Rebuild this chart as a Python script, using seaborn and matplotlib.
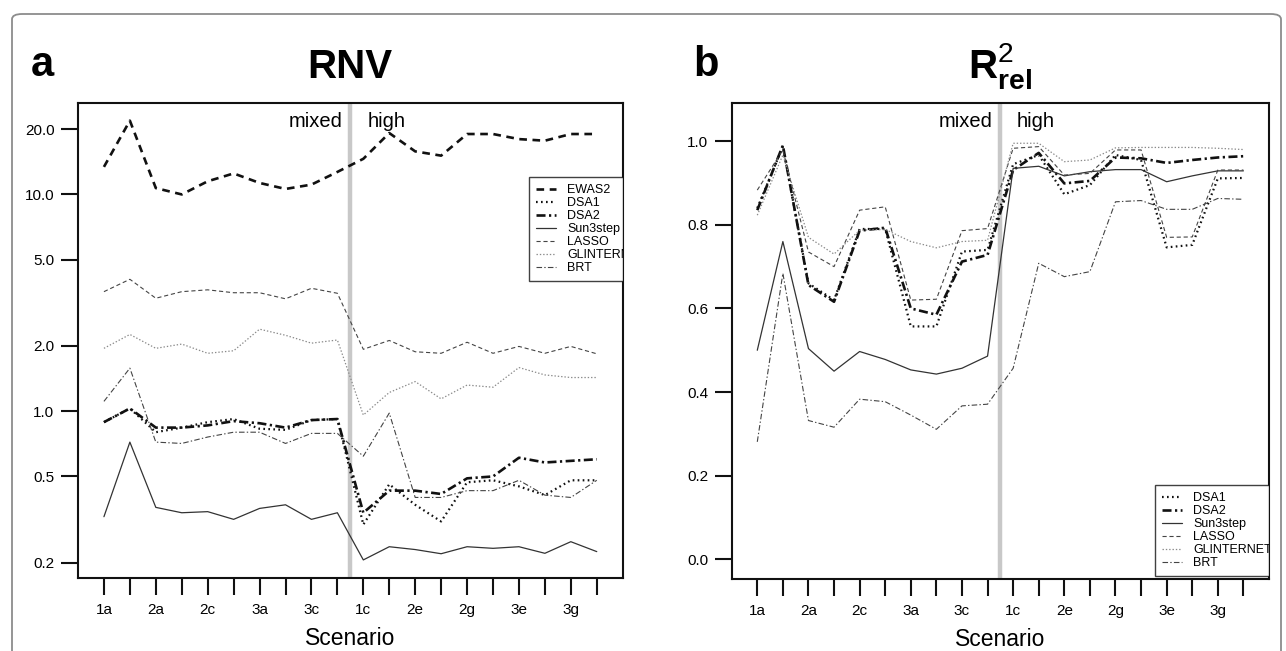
import numpy as np
import pandas as pd
import seaborn as sns
import matplotlib.pyplot as plt
from matplotlib.patches import FancyBboxPatch
from matplotlib.ticker import FixedLocator, FixedFormatter, NullLocator
import matplotlib.transforms as mtransforms

# scenarios (20), labels only on every second tick
scenarios = ["1a", "1b", "2a", "2b", "2c", "2d", "3a", "3b", "3c", "3d",
             "1c", "1d", "2e", "2f", "2g", "2h", "3e", "3f", "3g", "3h"]
tick_labels = ["1a", "", "2a", "", "2c", "", "3a", "", "3c", "",
               "1c", "", "2e", "", "2g", "", "3e", "", "3g", ""]

# panel a: RNV (log scale)
rnv_ewas2 = [13.4, 21.9, 10.7, 10.0, 11.5, 12.5, 11.3, 10.6, 11.1, 12.7,
             14.6, 19.2, 15.8, 15.1, 19.0, 19.0, 18.0, 17.7, 19.0, 19.0]
rnv_dsa1 = [0.89, 1.03, 0.80, 0.84, 0.89, 0.92, 0.83, 0.82, 0.91, 0.92,
            0.30, 0.46, 0.37, 0.31, 0.47, 0.48, 0.45, 0.41, 0.48, 0.48]
rnv_dsa2 = [0.89, 1.03, 0.84, 0.84, 0.86, 0.90, 0.88, 0.84, 0.91, 0.92,
            0.34, 0.43, 0.43, 0.415, 0.49, 0.50, 0.61, 0.58, 0.59, 0.60]
rnv_sun3step = [0.326, 0.72, 0.36, 0.34, 0.344, 0.317, 0.356, 0.37, 0.317, 0.34,
                0.206, 0.237, 0.23, 0.22, 0.237, 0.233, 0.237, 0.221, 0.25, 0.225]
rnv_lasso = [3.56, 4.06, 3.32, 3.56, 3.63, 3.52, 3.52, 3.30, 3.69, 3.50,
             1.93, 2.12, 1.88, 1.85, 2.08, 1.85, 1.99, 1.85, 1.99, 1.84]
rnv_glinternet = [1.95, 2.26, 1.95, 2.04, 1.85, 1.90, 2.39, 2.24, 2.06, 2.13,
                  0.96, 1.22, 1.37, 1.14, 1.32, 1.29, 1.59, 1.47, 1.43, 1.43]
rnv_brt = [1.11, 1.58, 0.72, 0.71, 0.76, 0.80, 0.80, 0.71, 0.79, 0.79,
           0.62, 0.98, 0.40, 0.40, 0.43, 0.43, 0.48, 0.41, 0.40, 0.48]

# panel b: R2 rel
r2_dsa1 = [0.84, 0.987, 0.66, 0.62, 0.79, 0.79, 0.557, 0.557, 0.736, 0.74,
           0.945, 0.967, 0.873, 0.895, 0.967, 0.955, 0.746, 0.752, 0.911, 0.912]
r2_dsa2 = [0.835, 0.99, 0.656, 0.616, 0.786, 0.793, 0.60, 0.585, 0.712, 0.728,
           0.931, 0.972, 0.899, 0.905, 0.961, 0.959, 0.948, 0.955, 0.961, 0.964]
r2_sun3step = [0.50, 0.76, 0.504, 0.45, 0.497, 0.478, 0.453, 0.443, 0.457, 0.486,
               0.935, 0.940, 0.917, 0.927, 0.932, 0.932, 0.903, 0.917, 0.929, 0.929]
r2_lasso = [0.883, 0.979, 0.735, 0.70, 0.835, 0.843, 0.62, 0.622, 0.786, 0.791,
            0.983, 0.987, 0.919, 0.923, 0.979, 0.979, 0.770, 0.771, 0.931, 0.931]
r2_glinternet = [0.823, 0.967, 0.77, 0.73, 0.787, 0.789, 0.76, 0.745, 0.76, 0.763,
                 0.995, 0.995, 0.951, 0.955, 0.984, 0.985, 0.985, 0.985, 0.983, 0.98]
r2_brt = [0.281, 0.684, 0.332, 0.316, 0.383, 0.377, 0.345, 0.311, 0.367, 0.371,
          0.457, 0.708, 0.676, 0.688, 0.855, 0.858, 0.837, 0.837, 0.863, 0.861]

rnv_ticks = [0.2, 0.5, 1.0, 2.0, 5.0, 10.0, 20.0]
rnv_tick_labels = ["0.2", "0.5", "1.0", "2.0", "5.0", "10.0", "20.0"]
r2_ticks = [0.0, 0.2, 0.4, 0.6, 0.8, 1.0]
r2_tick_labels = ["0.0", "0.2", "0.4", "0.6", "0.8", "1.0"]

# line styles (R-like lty/lwd)
styles = {
    "EWAS2": dict(color="#111111", lw=1.9, ls=(0, (5.5, 4))),
    "DSA1": dict(color="#111111", lw=1.6, ls=(0, (1.2, 2.4))),
    "DSA2": dict(color="#111111", lw=1.9, ls=(0, (6.5, 2.5, 1.6, 2.5))),
    "Sun3step": dict(color="#333333", lw=0.9, ls="-"),
    "LASSO": dict(color="#444444", lw=0.8, ls=(0, (3, 2))),
    "GLINTERNET": dict(color="#8a8a8a", lw=0.9, ls=(0, (1, 1.4))),
    "BRT": dict(color="#444444", lw=0.8, ls=(0, (4, 1.6, 1, 1.6))),
}

sns.set_style("white")
plt.rcParams["font.family"] = ["Liberation Sans", "DejaVu Sans"]
plt.rcParams["lines.scale_dashes"] = False
plt.rcParams["mathtext.fontset"] = "custom"
plt.rcParams["mathtext.rm"] = "Liberation Sans"
plt.rcParams["mathtext.bf"] = "Liberation Sans:bold"
plt.rcParams["text.color"] = "black"
plt.rcParams["axes.labelcolor"] = "black"
plt.rcParams["xtick.color"] = "black"
plt.rcParams["ytick.color"] = "black"

W, H = 1286, 651
fig = plt.figure(figsize=(W / 100, H / 100), dpi=100)
fig.patch.set_facecolor("white")

ax_a = fig.add_axes([78 / W, 1 - 578 / H, (622.7 - 78) / W, (578 - 102.7) / H])
ax_b = fig.add_axes([731.7 / W, 1 - 579 / H, (1269 - 731.7) / W, (579 - 102.7) / H])

x = np.arange(1, len(scenarios) + 1)

df_a = pd.DataFrame({"x": x, "EWAS2": rnv_ewas2, "DSA1": rnv_dsa1, "DSA2": rnv_dsa2,
                     "Sun3step": rnv_sun3step, "LASSO": rnv_lasso,
                     "GLINTERNET": rnv_glinternet, "BRT": rnv_brt})
df_b = pd.DataFrame({"x": x, "DSA1": r2_dsa1, "DSA2": r2_dsa2, "Sun3step": r2_sun3step,
                     "LASSO": r2_lasso, "GLINTERNET": r2_glinternet, "BRT": r2_brt})


def draw_panel(ax, df, names):
    for name in names:
        st = styles[name]
        sns.lineplot(data=df, x="x", y=name, ax=ax, color=st["color"], lw=st["lw"],
                     linestyle=st["ls"], label=name, legend=False)
    ax.axvline(10.5, color="#c8c8c8", lw=3.2, zorder=0)
    ax.set_xlim(0, 21)
    ax.set_xticks(x)
    ax.set_xticklabels(tick_labels)
    ax.set_xlabel("Scenario", fontsize=16.5, labelpad=7)
    ax.set_ylabel("")
    for sp in ax.spines.values():
        sp.set_visible(True)
        sp.set_color("#111111")
        sp.set_linewidth(1.5)
    ax.tick_params(axis="both", which="major", direction="out", length=12, width=1.5,
                   color="#111111", labelsize=11, pad=5, bottom=True, left=True)
    ax.tick_params(axis="x", pad=6)
    trans = mtransforms.blended_transform_factory(ax.transData, ax.transAxes)
    ax.text(10.2, 0.948, "mixed", transform=trans, ha="right", va="baseline", fontsize=14.5)
    ax.text(11.15, 0.948, "high", transform=trans, ha="left", va="baseline", fontsize=14.5)


def clipped_legend(ax, anchor):
    leg = ax.legend(loc="upper left", bbox_to_anchor=anchor, bbox_transform=fig.transFigure,
                    fontsize=9, frameon=True, fancybox=False, borderaxespad=0,
                    handlelength=1.6, handletextpad=0.9, labelspacing=0.08,
                    borderpad=0.55)
    frame = leg.get_frame()
    frame.set_edgecolor("#111111")
    frame.set_linewidth(1.0)
    for art in [frame] + leg.get_texts() + leg.get_lines():
        art.set_clip_box(ax.bbox)
        art.set_clip_on(True)
    return leg


# panel a
draw_panel(ax_a, df_a, ["EWAS2", "DSA1", "DSA2", "Sun3step", "LASSO", "GLINTERNET", "BRT"])
ax_a.set_yscale("log")
ax_a.set_ylim(0.170, 26.5)
ax_a.yaxis.set_major_locator(FixedLocator(rnv_ticks))
ax_a.yaxis.set_major_formatter(FixedFormatter(rnv_tick_labels))
ax_a.yaxis.set_minor_locator(NullLocator())
clipped_legend(ax_a, (529 / W, 1 - 177 / H))

# panel b
draw_panel(ax_b, df_b, ["DSA1", "DSA2", "Sun3step", "LASSO", "GLINTERNET", "BRT"])
ax_b.set_ylim(-0.047, 1.092)
ax_b.yaxis.set_major_locator(FixedLocator(r2_ticks))
ax_b.yaxis.set_major_formatter(FixedFormatter(r2_tick_labels))
clipped_legend(ax_b, (1155 / W, 1 - 485 / H))

# titles and panel letters
fig.text(350 / W, 1 - 78 / H, "RNV", ha="center", va="baseline", fontsize=29, fontweight="bold")
fig.text(1000 / W, 1 - 78 / H, r"$\mathbf{R}^{2}_{\mathbf{rel}}$", ha="center", va="baseline",
         fontsize=29)
fig.text(31 / W, 1 - 76 / H, "a", ha="left", va="baseline", fontsize=30, fontweight="bold")
fig.text(693 / W, 1 - 76 / H, "b", ha="left", va="baseline", fontsize=30, fontweight="bold")

# outer rounded frame
fig.add_artist(FancyBboxPatch((12 / W, -0.05), (1281 - 12) / W, (651 - 14) / H + 0.05,
                              boxstyle="round,pad=0,rounding_size=0.008",
                              transform=fig.transFigure, fill=False,
                              edgecolor="#8c8c8c", lw=1.3))

fig.savefig("out.png", dpi=100)
